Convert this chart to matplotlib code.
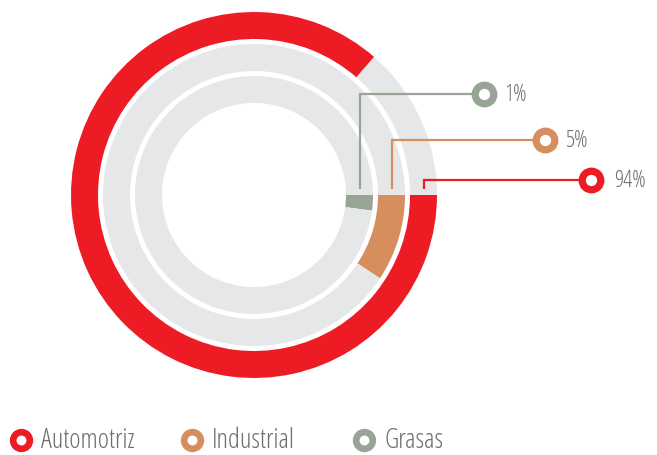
import matplotlib
matplotlib.use("Agg")
import matplotlib.pyplot as plt

# ---- data ----
categories = ["Automotriz", "Industrial", "Grasas"]
shares = [94, 5, 1]
share_labels = ["94%", "5%", "1%"]
# fraction of each ring that is filled
ring_fill = [0.864, 0.093, 0.021]

# ---- style ----
colors = ["#ED1C24", "#D78E5E", "#98A596"]
track = "#E6E7E8"
text_col = "#6D6E70"
font = dict(family="Open Sans", weight=300, stretch="condensed")

W, H = 657, 456
fig = plt.figure(figsize=(W / 100, H / 100), dpi=100)
ax = fig.add_axes([0, 0, 1, 1])

cx, cy = 254, H - 196
ring_width = 27
outer_radii = [183, 151, 119]

for frac, r, c in zip(ring_fill, outer_radii, colors):
    ax.pie([frac, 1 - frac], radius=r, center=(cx, cy), startangle=0,
           counterclock=False, colors=[c, track],
           wedgeprops=dict(width=ring_width, linewidth=0))

ax.set_xlim(0, W)
ax.set_ylim(0, H)
ax.set_aspect("equal")
ax.axis("off")

# leader lines and value labels
label_pos = [(591, H - 181), (545, H - 141), (484, H - 95)]
text_x = [614, 566, 504]
for i, (r, c) in enumerate(zip(outer_radii, colors)):
    lx = cx + r - ring_width / 2
    px, py = label_pos[i]
    ax.plot([lx, lx, px], [H - 190, py, py], color=c, lw=1.6,
            solid_capstyle="butt", solid_joinstyle="miter", zorder=3)
    ax.plot([px], [py], marker="o", ms=13.4, mew=5.2, mfc="white",
            mec=c, zorder=4)
    ax.text(text_x[i], py, share_labels[i], fontsize=16.5, color=text_col,
            ha="left", va="center", **font)

# legend
leg_x = [20.5, 192, 364]
leg_tx = [41, 212, 384]
for i, (name, c) in enumerate(zip(categories, colors)):
    ax.plot([leg_x[i]], [15], marker="o", ms=12, mew=4.8, mfc="white",
            mec=c, zorder=4)
    ax.text(leg_tx[i], 15, name, fontsize=19.5, color=text_col,
            ha="left", va="center", **font)

fig.savefig("out.png", dpi=100)
